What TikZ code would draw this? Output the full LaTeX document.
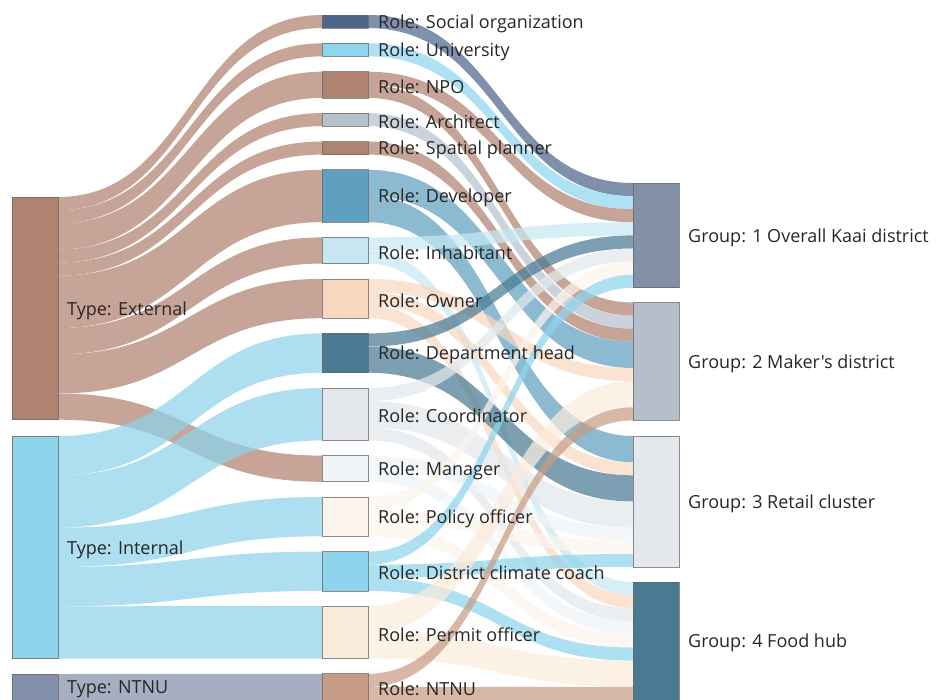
\documentclass[tikz,border=0pt]{standalone}
\usepackage{fontspec}
\setmainfont{Open Sans}[Ligatures=TeXOff]
\usetikzlibrary{calc}
\pgfdeclarelayer{flows}
\pgfsetlayers{flows,main}

% node colours
\definecolor{cExt}{HTML}{B08270}
\definecolor{cInt}{HTML}{8DD3EA}
\definecolor{cNtnuT}{HTML}{8390A9}
\definecolor{cSoc}{HTML}{4E6789}
\definecolor{cUni}{HTML}{8ED6EE}
\definecolor{cNpo}{HTML}{B08270}
\definecolor{cArch}{HTML}{B6C1CE}
\definecolor{cSpat}{HTML}{B08270}
\definecolor{cDev}{HTML}{5F9FBF}
\definecolor{cInh}{HTML}{C6E7F2}
\definecolor{cOwn}{HTML}{F9D8C0}
\definecolor{cDept}{HTML}{4A7A93}
\definecolor{cCoord}{HTML}{E3E7EC}
\definecolor{cMgr}{HTML}{EEF4F8}
\definecolor{cPol}{HTML}{FCF4EC}
\definecolor{cClim}{HTML}{8DD4EC}
\definecolor{cPerm}{HTML}{FBEBDB}
\definecolor{cNtnuR}{HTML}{C89C84}
\definecolor{cGa}{HTML}{8391A8}
\definecolor{cGb}{HTML}{B4BFCB}
\definecolor{cGc}{HTML}{E4E8ED}
\definecolor{cGd}{HTML}{4A7A92}
\definecolor{labelgray}{HTML}{262626}

% one value unit of the flows
\def\un{13.1pt}

\tikzset{
  bar/.style={draw=black!60, draw opacity=.75, line width=.7pt, fill=#1,
    minimum width=46pt, inner sep=0pt, outer sep=0pt, anchor=north west},
  lbl/.style={anchor=west, inner sep=0pt, text=labelgray,
    font=\fontsize{18}{21}\selectfont},
  flowfill/.style={fill=#1, fill opacity=.72},
}

% ribbon: source node, offset in source (units), target node, offset in target (units), width (units), colour
\newcommand\sankeyflow[6]{%
  \fill[flowfill=#6]
    let \p1=(#1.north east), \p2=(#3.north west) in
    (\x1,\y1-#2*\un)
      .. controls ({0.5*(\x1+\x2)},\y1-#2*\un) and ({0.5*(\x1+\x2)},\y2-#4*\un) ..
    (\x2,\y2-#4*\un)
    -- (\x2,\y2-#4*\un-#5*\un)
      .. controls ({0.5*(\x1+\x2)},\y2-#4*\un-#5*\un) and ({0.5*(\x1+\x2)},\y1-#2*\un-#5*\un) ..
    (\x1,\y1-#2*\un-#5*\un)
    -- cycle;
}

\begin{document}
\begin{tikzpicture}[x=1pt,y=-1pt]
\useasboundingbox (0,0) rectangle (937,699);

% ---- type column
\node[bar=cExt,   minimum height=17*\un] (tExt)  at (12,197) {};
\node[bar=cInt,   minimum height=17*\un] (tInt)  at (12,436) {};
\node[bar=cNtnuT, minimum height=2*\un]  (tNtnu) at (12,674) {};

% ---- role column
\node[bar=cSoc,   minimum height=1*\un] (rSoc)   at (322,15.0) {};
\node[bar=cUni,   minimum height=1*\un] (rUni)   at (322,43.3) {};
\node[bar=cNpo,   minimum height=2*\un] (rNpo)   at (322,71.7) {};
\node[bar=cArch,  minimum height=1*\un] (rArch)  at (322,113.1) {};
\node[bar=cSpat,  minimum height=1*\un] (rSpat)  at (322,141.5) {};
\node[bar=cDev,   minimum height=4*\un] (rDev)   at (322,169.8) {};
\node[bar=cInh,   minimum height=2*\un] (rInh)   at (322,237.4) {};
\node[bar=cOwn,   minimum height=3*\un] (rOwn)   at (322,278.9) {};
\node[bar=cDept,  minimum height=3*\un] (rDept)  at (322,333.4) {};
\node[bar=cCoord, minimum height=4*\un] (rCoord) at (322,388.0) {};
\node[bar=cMgr,   minimum height=2*\un] (rMgr)   at (322,455.6) {};
\node[bar=cPol,   minimum height=3*\un] (rPol)   at (322,497.0) {};
\node[bar=cClim,  minimum height=3*\un] (rClim)  at (322,551.6) {};
\node[bar=cPerm,  minimum height=4*\un] (rPerm)  at (322,606.1) {};
\node[bar=cNtnuR, minimum height=2*\un] (rNtnu)  at (322,673.8) {};

% ---- group column
\node[bar=cGa, minimum height=8*\un]  (gA) at (633,183) {};
\node[bar=cGb, minimum height=9*\un]  (gB) at (633,302.5) {};
\node[bar=cGc, minimum height=10*\un] (gC) at (633,436) {};
\node[bar=cGd, minimum height=9*\un]  (gD) at (633,582) {};

% ---- ribbons
\begin{pgfonlayer}{flows}
\sankeyflow{tExt}{0}{rSoc}{0}{1}{cExt}
\sankeyflow{tExt}{1}{rUni}{0}{1}{cExt}
\sankeyflow{tExt}{2}{rNpo}{0}{2}{cExt}
\sankeyflow{tExt}{4}{rArch}{0}{1}{cExt}
\sankeyflow{tExt}{5}{rSpat}{0}{1}{cExt}
\sankeyflow{tExt}{6}{rDev}{0}{4}{cExt}
\sankeyflow{tExt}{10}{rInh}{0}{2}{cExt}
\sankeyflow{tExt}{12}{rOwn}{0}{3}{cExt}
\sankeyflow{tExt}{15}{rMgr}{0}{2}{cExt}
\sankeyflow{tInt}{0}{rDept}{0}{3}{cInt}
\sankeyflow{tInt}{3}{rCoord}{0}{4}{cInt}
\sankeyflow{tInt}{7}{rPol}{0}{3}{cInt}
\sankeyflow{tInt}{10}{rClim}{0}{3}{cInt}
\sankeyflow{tInt}{13}{rPerm}{0}{4}{cInt}
\sankeyflow{tNtnu}{0}{rNtnu}{0}{2}{cNtnuT}

\sankeyflow{rSoc}{0}{gA}{0}{1}{cSoc}
\sankeyflow{rUni}{0}{gA}{1}{1}{cUni}
\sankeyflow{rNpo}{0}{gA}{2}{1}{cNpo}
\sankeyflow{rNpo}{1}{gB}{0}{1}{cNpo}
\sankeyflow{rArch}{0}{gB}{1}{1}{cArch}
\sankeyflow{rSpat}{0}{gB}{2}{1}{cSpat}
\sankeyflow{rDev}{0}{gB}{3}{2}{cDev}
\sankeyflow{rDev}{2}{gC}{0}{2}{cDev}
\sankeyflow{rInh}{0}{gA}{3}{1}{cInh}
\sankeyflow{rInh}{1}{gD}{0}{1}{cInh}
\sankeyflow{rOwn}{0}{gB}{5}{1}{cOwn}
\sankeyflow{rOwn}{1}{gC}{2}{1}{cOwn}
\sankeyflow{rOwn}{2}{gD}{1}{1}{cOwn}
\sankeyflow{rDept}{0}{gA}{4}{1}{cDept}
\sankeyflow{rDept}{1}{gC}{3}{2}{cDept}
\sankeyflow{rCoord}{0}{gA}{5}{1}{cCoord}
\sankeyflow{rCoord}{1}{gC}{5}{2}{cCoord}
\sankeyflow{rCoord}{3}{gD}{2}{1}{cCoord}
\sankeyflow{rMgr}{0}{gC}{7}{1}{cMgr}
\sankeyflow{rMgr}{1}{gD}{3}{1}{cMgr}
\sankeyflow{rPol}{0}{gA}{6}{1}{cPol}
\sankeyflow{rPol}{1}{gC}{8}{1}{cPol}
\sankeyflow{rPol}{2}{gD}{4}{1}{cPol}
\sankeyflow{rClim}{0}{gA}{7}{1}{cClim}
\sankeyflow{rClim}{1}{gC}{9}{1}{cClim}
\sankeyflow{rClim}{2}{gD}{5}{1}{cClim}
\sankeyflow{rPerm}{0}{gB}{6}{2}{cPerm}
\sankeyflow{rPerm}{2}{gD}{6}{2}{cPerm}
\sankeyflow{rNtnu}{0}{gB}{8}{1}{cNtnuR}
\sankeyflow{rNtnu}{1}{gD}{8}{1}{cNtnuR}
\end{pgfonlayer}

% ---- labels
\tikzset{tlbl/.style={lbl, xshift=9pt, yshift=-2pt}, rlbl/.style={lbl, xshift=10pt, yshift=-2pt}}
\node[tlbl] (ltExt)  at (tExt.east)  {Type: External};
\node[tlbl] (ltInt)  at (tInt.east)  {Type: Internal};
\node[tlbl] (ltNtnu) at (tNtnu.east) {Type: NTNU};

\node[rlbl] (lrSoc)   at (rSoc.east)   {Role: Social organization};
\node[rlbl] (lrUni)   at (rUni.east)   {Role: University};
\node[rlbl] (lrNpo)   at (rNpo.east)   {Role: NPO};
\node[rlbl] (lrArch)  at (rArch.east)  {Role: Architect};
\node[rlbl] (lrSpat)  at (rSpat.east)  {Role: Spatial planner};
\node[rlbl] (lrDev)   at (rDev.east)   {Role: Developer};
\node[rlbl] (lrInh)   at (rInh.east)   {Role: Inhabitant};
\node[rlbl] (lrOwn)   at (rOwn.east)   {Role: Owner};
\node[rlbl] (lrDept)  at (rDept.east)  {Role: Department head};
\node[rlbl] (lrCoord) at (rCoord.east) {Role: Coordinator};
\node[rlbl] (lrMgr)   at (rMgr.east)   {Role: Manager};
\node[rlbl] (lrPol)   at (rPol.east)   {Role: Policy officer};
\node[rlbl] (lrClim)  at (rClim.east)  {Role: District climate coach};
\node[rlbl] (lrPerm)  at (rPerm.east)  {Role: Permit officer};
\node[rlbl] (lrNtnu)  at (rNtnu.east)  {Role: NTNU};

\node[tlbl] (lgA) at (gA.east) {Group: 1 Overall Kaai district};
\node[tlbl] (lgB) at (gB.east) {Group: 2 Maker's district};
\node[tlbl] (lgC) at (gC.east) {Group: 3 Retail cluster};
\node[tlbl] (lgD) at (gD.east) {Group: 4 Food hub};
\end{tikzpicture}
\end{document}
